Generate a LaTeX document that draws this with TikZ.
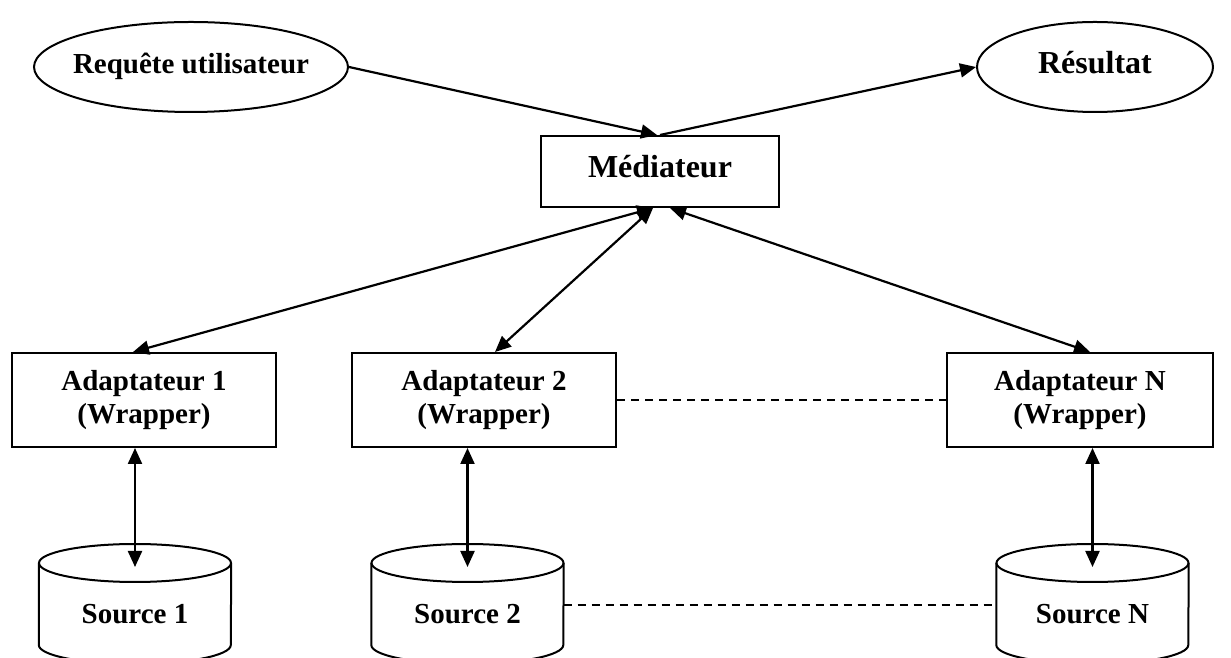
\documentclass[tikz,border=0pt]{standalone}
\usepackage{fontspec}
\setmainfont{Liberation Serif}
\usetikzlibrary{arrows.meta,shapes.geometric}

\begin{document}
\begin{tikzpicture}[x=1pt,y=1pt,
  conn/.style={line width=2.2pt},
  tipped/.style={conn,-{Triangle[length=16pt,width=14pt]}},
  both/.style={conn,{Triangle[length=16pt,width=14pt]}-{Triangle[length=16pt,width=14pt]}},
  link/.style={line width=1.3pt,dash pattern=on 8pt off 6pt},
  oval/.style={ellipse,draw,line width=2pt,inner sep=0pt,
    minimum height=90pt,text height=20pt,text depth=7pt},
  medbox/.style={rectangle,draw,line width=2pt,inner sep=0pt,
    minimum width=238pt,minimum height=71pt,text height=20pt,text depth=7pt,
    font=\bfseries\fontsize{32}{36}\selectfont},
  adbox/.style={rectangle,draw,line width=2pt,inner sep=0pt,align=center,
    minimum height=94pt,font=\bfseries\fontsize{29}{33}\selectfont},
  src/.style={inner sep=0pt,minimum width=192pt,text height=40pt,text depth=2pt,
    font=\bfseries\fontsize{29}{33}\selectfont},
  drum/.style={line width=2pt}
]
\useasboundingbox (0,0) rectangle (1231,658);

% user side
\node[oval,minimum width=314pt,font=\bfseries\fontsize{29}{33}\selectfont]
  (req) at (191,591) {\makebox[0pt]{Requête utilisateur}};
\node[oval,minimum width=236pt,font=\bfseries\fontsize{32}{36}\selectfont]
  (res) at (1095,591) {\makebox[0pt]{Résultat}};

% mediator
\node[medbox] (med) at (660,486.5) {Médiateur};

% wrappers
\node[adbox,minimum width=264pt] (a1) at (144,258) {Adaptateur 1\\(Wrapper)};
\node[adbox,minimum width=264pt] (a2) at (484,258) {Adaptateur 2\\(Wrapper)};
\node[adbox,minimum width=266pt] (aN) at (1080,258) {Adaptateur N\\(Wrapper)};

% sources (labels; the drums are drawn around them)
\node[src] (s1) at (135,53) {Source 1};
\node[src] (s2) at (467.5,53) {Source 2};
\node[src] (sN) at (1092.5,53) {Source N};

\foreach \s in {s1,s2,sN}{
  \draw[drum] ([yshift=42pt]\s.center) ellipse [x radius=96, y radius=19];
  \draw[drum] ([yshift=42pt]\s.west) -- ([yshift=-40pt]\s.west)
    arc[start angle=180, end angle=360, x radius=96, y radius=19]
    -- ([yshift=42pt]\s.east);
  \coordinate (\s cap) at ([yshift=38pt]\s.center);
}

% query and result flow
\draw[tipped] (req.east) -- ([xshift=-3pt]med.north);
\draw[tipped] (med.north) -- (res.west);

% mediator <-> wrappers
\draw[both] ([xshift=-11pt]a1.north) -- ([xshift=-7pt]med.south);
\draw[both] ([xshift=11pt]a2.north) -- ([xshift=-7pt]med.south);
\draw[both] ([xshift=10pt]aN.north) -- ([xshift=10pt]med.south);

% wrappers <-> sources
\draw[both] (s1cap |- a1.south) -- (s1cap);
\draw[both] (s2cap |- a2.south) -- (s2cap);
\draw[both] (sNcap |- aN.south) -- (sNcap);

% elided middle
\draw[link] (a2.east) -- (aN.west);
\draw[link] (s2.east) -- (sN.west);
\end{tikzpicture}
\end{document}
